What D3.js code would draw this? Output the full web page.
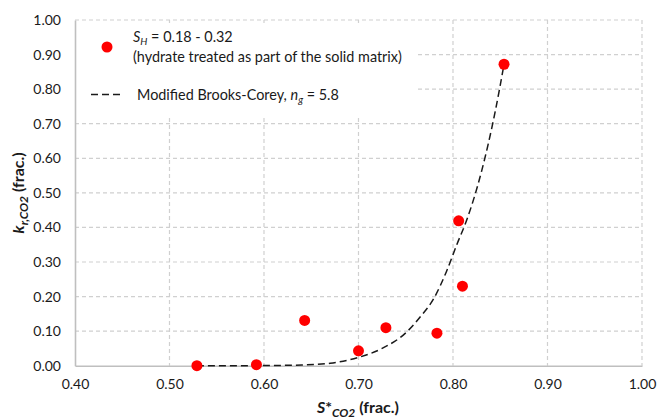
<!DOCTYPE html>
<html>
<head>
<meta charset="utf-8">
<script src="https://cdn.jsdelivr.net/npm/d3@7"></script>
<style>
  html, body { margin: 0; padding: 0; background: #fff; }
  svg { display: block; font-family: Lato, "Open Sans", sans-serif; }
</style>
</head>
<body>
<svg id="chart" width="657" height="420"></svg>
<script>
// Measured data points (S*CO2, kr,CO2)
const satValues = [0.529, 0.592, 0.643, 0.700, 0.729, 0.783, 0.806, 0.810, 0.854];
const krValues  = [0.000, 0.003, 0.131, 0.043, 0.110, 0.094, 0.419, 0.230, 0.872];

// Modified Brooks-Corey curve
const curveSat = [0.529, 0.56, 0.60, 0.64, 0.67, 0.70, 0.725, 0.75, 0.765, 0.78, 0.793, 0.804, 0.815, 0.83, 0.845, 0.854];
const curveKr  = [0.000, 0.000, 0.0005, 0.002, 0.007, 0.024, 0.050, 0.095, 0.140, 0.196, 0.272, 0.350, 0.425, 0.560, 0.740, 0.872];

const xTicks = [0.40, 0.50, 0.60, 0.70, 0.80, 0.90, 1.00];
const yTicks = [0.00, 0.10, 0.20, 0.30, 0.40, 0.50, 0.60, 0.70, 0.80, 0.90, 1.00];

const svg = d3.select("#chart");
const pLeft = 75, pRight = 642, pTop = 20, pBottom = 365.7;

const x = d3.scaleLinear().domain([0.4, 1.0]).range([pLeft, pRight]);
const y = d3.scaleLinear().domain([0, 1.0]).range([pBottom, pTop]);

const gridColor = "#d0d0d0";

// Horizontal gridlines
svg.append("g").selectAll("line").data(yTicks.filter(d => d > 0)).join("line")
  .attr("x1", pLeft).attr("x2", pRight)
  .attr("y1", d => y(d)).attr("y2", d => y(d))
  .attr("stroke", gridColor).attr("stroke-width", 1.2)
  .attr("stroke-dasharray", "4,3");

// Vertical gridlines
svg.append("g").selectAll("line").data(xTicks.filter(d => d > 0.4)).join("line")
  .attr("x1", d => x(d)).attr("x2", d => x(d))
  .attr("y1", pTop).attr("y2", pBottom)
  .attr("stroke", gridColor).attr("stroke-width", 1.2)
  .attr("stroke-dasharray", "4,3");

// Legend background (covers gridlines)
svg.append("rect")
  .attr("x", pLeft + 1).attr("y", pTop + 3)
  .attr("width", 417 - pLeft - 1).attr("height", 117 - pTop - 3)
  .attr("fill", "#fff");

// Axes via d3 axis
const xAxis = d3.axisBottom(x).tickValues(xTicks).tickFormat(d3.format(".2f")).tickSize(0).tickPadding(13);
const yAxis = d3.axisLeft(y).tickValues(yTicks).tickFormat(d3.format(".2f")).tickSize(0).tickPadding(14);

const gx = svg.append("g").attr("transform", `translate(0,${pBottom})`).call(xAxis);
const gy = svg.append("g").attr("transform", `translate(${pLeft},0)`).call(yAxis);
[gx, gy].forEach(g => {
  g.select(".domain").attr("stroke", "#bfbfbf").attr("stroke-width", 1.6);
  g.selectAll("text").attr("font-family", "Lato, sans-serif").attr("font-size", 14).attr("fill", "#1a1a1a");
});

// Curve
const line = d3.line().x((d, i) => x(curveSat[i])).y((d, i) => y(curveKr[i])).curve(d3.curveMonotoneX);
svg.append("path")
  .datum(curveSat)
  .attr("d", line)
  .attr("fill", "none")
  .attr("stroke", "#1a1a1a")
  .attr("stroke-width", 1.5)
  .attr("stroke-dasharray", "7,4");

// Points
svg.append("g").selectAll("circle").data(satValues).join("circle")
  .attr("cx", d => x(d))
  .attr("cy", (d, i) => y(krValues[i]))
  .attr("r", 5.5)
  .attr("fill", "#ff0000");

// Legend
const lg = svg.append("g").attr("font-size", 14.4).attr("fill", "#1a1a1a");
lg.append("circle").attr("cx", 107).attr("cy", 47).attr("r", 5.5).attr("fill", "#ff0000");
const t1 = lg.append("text").attr("x", 133).attr("y", 42);
t1.append("tspan").attr("font-style", "italic").text("S");
t1.append("tspan").attr("font-style", "italic").attr("font-size", 10).attr("dy", 3).text("H");
t1.append("tspan").attr("dy", -3).text(" = 0.18 - 0.32");
lg.append("text").attr("x", 133).attr("y", 61.5).text("(hydrate treated as part of the solid matrix)");

lg.append("line").attr("x1", 91).attr("x2", 124).attr("y1", 94.5).attr("y2", 94.5)
  .attr("stroke", "#1a1a1a").attr("stroke-width", 1.5).attr("stroke-dasharray", "7,4");
const t3 = lg.append("text").attr("x", 137).attr("y", 99.5);
t3.append("tspan").text("Modified Brooks-Corey, ");
t3.append("tspan").attr("font-style", "italic").text("n");
t3.append("tspan").attr("font-style", "italic").attr("font-size", 10).attr("dy", 3).text("g");
t3.append("tspan").attr("dy", -3).text(" = 5.8");

// X axis title
const xt = svg.append("text").attr("x", 358).attr("y", 413).attr("text-anchor", "middle")
  .attr("font-weight", "bold").attr("font-size", 16).attr("fill", "#1a1a1a");
xt.append("tspan").attr("font-style", "italic").text("S");
xt.append("tspan").text("*");
xt.append("tspan").attr("font-style", "italic").attr("font-size", 12).attr("dy", 4).text("CO2");
xt.append("tspan").attr("dy", -4).text(" (frac.)");

// Y axis title
const yt = svg.append("text").attr("transform", `translate(24,${(pTop + pBottom) / 2}) rotate(-90)`)
  .attr("text-anchor", "middle")
  .attr("font-weight", "bold").attr("font-size", 16).attr("fill", "#1a1a1a");
yt.append("tspan").attr("font-style", "italic").text("k");
yt.append("tspan").attr("font-style", "italic").attr("font-size", 12).attr("dy", 4).text("r,CO2");
yt.append("tspan").attr("dy", -4).text(" (frac.)");
</script>
</body>
</html>
